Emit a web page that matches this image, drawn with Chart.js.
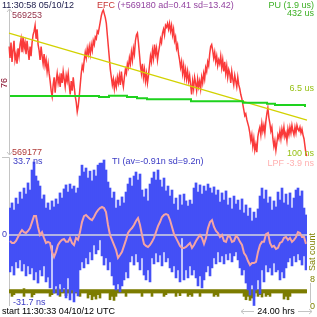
<!DOCTYPE html>
<html><head><meta charset="utf-8">
<script src="https://cdn.jsdelivr.net/npm/chart.js@4/dist/chart.umd.min.js"></script>
<style>html,body{margin:0;padding:0;background:#fff;overflow:hidden}#wrap{width:317px;height:317px;position:relative}canvas{display:block}</style>
</head><body><div id="wrap"><canvas id="c" width="317" height="317"></canvas></div>
<script>
// ---- data ----
// EFC, offset from 569180 (one sample per pixel column)
const efcBase = 569180;
const efcTopLabel = 569253, efcBottomLabel = 569177;
const efc = [54,48,56,46,52,57,47,50,45,53,
49,55,58,51,59,53,56,50,57,52,
47,54,49,56,60,62,65,58,63,55,
52,47,54,49,45,50,44,47,41,45,
40,36,31,28,34,38,30,36,40,35,
38,33,40,35,41,37,33,39,36,40,
34,29,36,31,38,33,28,25,20,23,
28,34,40,44,42,47,51,48,53,50,
54,50,55,52,57,55,59,58,62,61,
64,67,70,72,73,71,69,66,60,54,
48,42,38,34,37,32,36,33,38,35,
39,34,41,36,33,38,42,40,45,43,
48,45,51,47,53,50,57,60,61,56,
50,44,40,45,38,42,36,40,35,39,
44,49,46,52,48,55,50,53,47,51,
54,58,56,61,63,60,65,64,66,63,
66,62,65,60,63,57,59,53,55,50,
47,43,46,40,44,38,42,37,41,36,
39,34,29,36,32,38,35,31,37,33,
36,32,38,35,40,37,43,41,46,44,
50,54,55,52,48,51,46,49,44,47,
45,49,43,47,41,46,40,44,38,42,
40,35,41,37,34,39,36,33,38,34,
32,29,27,24,21,18,19,16,14,12,
9,5,8,2,6,0,3,-1,7,10,
12,8,14,10,13,9,15,19,22,17,
14,10,12,6,2,5,0,4,8,6,
10,6,11,8,12,7,9,5,11,8,
12,9,13,10,8,12,9,13,11,10,
12,9,11,8,6,2,-2,-3];
// linear fit of EFC: start and end values
const efcTrendStart = 61.0, efcTrendEnd = 15.7;
// PU (us), log scale 100 ns .. 432 us
const puMin = 0.1, puMax = 432;
const pu = [3.12,3.12,3.12,3.12,3.12,3.12,3.12,3.12,3.12,3.12,
3.12,3.12,3.12,3.12,3.12,3.12,3.12,3.12,3.12,3.12,
3.12,3.12,3.12,3.12,3.12,3.12,3.12,3.12,3.12,3.12,
3.12,3.12,3.12,3.12,3.12,3.12,3.12,3.12,3.12,3.12,
3.12,3.12,3.12,3.12,3.12,2.95,2.95,2.95,2.95,2.95,
3.17,3.17,3.17,3.17,3.17,3.17,3.17,3.17,3.17,2.95,
2.95,2.95,2.95,2.95,2.73,2.73,2.73,2.73,2.73,2.58,
2.58,2.58,2.58,2.58,2.58,2.58,2.58,2.58,2.58,2.58,
2.58,2.58,2.58,2.58,2.58,2.58,2.58,2.58,2.58,2.58,
2.58,2.30,2.30,2.30,2.30,2.30,2.30,2.30,2.30,2.30,
2.30,2.30,2.30,2.30,2.30,2.30,2.30,2.30,2.30,2.30,
2.30,2.30,2.30,2.30,2.30,2.30,2.30,2.12,2.12,2.12,
2.12,2.12,2.12,2.12,2.12,2.12,2.12,2.12,2.12,2.01,
2.01,2.01,2.01,1.86,1.86,1.86,1.86,1.86,1.86,1.86,
1.86,1.86,1.86,1.86,1.86,1.86,1.86,1.86,1.76];
// TI (ns): per-column range
const tiMax = 33.7, tiMin = -31.7;
const tiHigh = [12.1,14.4,11.2,16.6,13.9,19.3,16.2,21.1,18.4,23.4,
20.2,29.2,32.8,26.5,24.3,22.0,16.2,18.0,12.1,14.4,
11.2,15.3,12.6,16.2,13.9,18.9,16.6,20.7,22.5,19.3,
22.9,20.7,22.0,18.9,21.1,26.5,31.4,28.3,30.1,25.6,
28.7,24.3,29.2,26.5,31.4,32.3,32.3,33.7,29.2,23.8,
21.1,16.6,19.3,12.1,15.7,13.0,17.1,14.4,19.3,22.9,
25.6,22.0,26.5,28.3,24.7,27.4,20.2,17.1,20.7,15.3,
22.9,25.6,28.3,24.7,29.2,24.7,21.6,25.6,19.8,22.0,
17.5,20.2,13.9,16.6,11.2,18.0,13.5,18.4,15.3,13.0,
15.7,13.9,21.1,23.4,19.3,22.5,18.4,22.0,19.8,22.9,
21.1,18.9,21.6,18.0,20.2,14.8,18.9,15.7,19.8,13.5,
16.6,11.7,17.5,13.9,15.7,11.2,16.2,9.9,13.5,8.5,
12.1,6.3,10.3,7.6,11.7,17.5,21.1,16.2,20.2,14.4,
17.1,11.2,15.3,12.6,19.3,15.7,21.1,14.4,18.4,13.5,
18.9,12.1,16.6,20.2,21.1,17.5,19.8,12.1,9.0];
const tiLow = [-16.6,-13.9,-18.0,-12.1,-14.8,-11.2,-16.2,-13.0,-18.4,-13.9,
-17.5,-14.8,-20.2,-16.6,-21.6,-15.7,-18.4,-13.9,-21.1,-18.9,
-23.8,-4.5,-26.1,-22.9,-27.0,-22.0,-25.6,-23.8,-28.3,-19.3,
-29.2,-24.7,-30.1,-25.6,-27.4,-15.7,-12.1,-14.8,-10.3,-13.0,
-7.6,-11.2,-4.5,-8.5,-6.7,-2.2,-9.4,-13.5,-10.3,-15.7,
-12.1,-18.4,-22.5,-24.7,-22.0,-25.6,-22.9,-20.2,-16.6,-19.3,
-12.1,-9.4,-13.5,-8.5,-12.1,-15.7,-10.3,-18.0,-20.2,-15.7,
-21.1,-10.3,-13.0,-8.1,-12.1,-9.0,-13.9,-7.6,-12.1,-10.3,
-14.8,-16.6,-13.9,-19.3,-15.7,-21.1,-1.3,-20.2,-15.7,-19.3,
-13.9,-18.0,-15.7,-19.3,-22.9,-18.4,-23.8,-20.2,-16.6,-13.9,
-18.4,-14.8,-10.3,-13.0,-7.6,-12.1,-9.4,-13.0,-8.5,-11.2,
-8.1,-12.1,-9.4,-7.6,-11.2,-14.8,-18.0,-15.7,-21.6,-24.7,
-27.0,-22.5,-31.7,-24.7,-20.2,-26.5,-15.7,-21.1,-13.5,-16.6,
-14.8,-18.0,-12.6,-16.6,-15.7,-20.2,-16.6,-19.3,-14.8,-12.1,
-10.3,-13.9,-9.4,-12.1,-8.5,-11.2,-13.5,-9.4,-15.7];
// LPF of TI (ns)
const lpf = [-2.7,-3.6,-3.6,-2.7,-0.9,0.9,2.2,1.3,0.9,1.8,
3.1,5.8,8.5,8.5,3.6,0,1.3,-1.3,-3.6,-3.1,
-3.6,-7.6,-9.9,-7.6,-4.5,-3.1,-2.2,-1.8,-3.1,-3.1,
-1.3,-3.6,-4.5,-1.3,-2.2,1.3,5.8,8.5,9.0,8.1,
7.2,6.7,8.1,9.9,11.2,12.1,12.6,12.1,10.3,4.5,
0,-2.2,-4.5,-6.7,-10.3,-9.0,-7.6,-4.9,-2.2,0.9,
2.2,3.1,4.5,6.3,7.6,4.5,0,-4.0,-4.9,-5.4,
-4.5,-3.1,-1.3,1.3,4.0,5.8,8.1,9.0,9.4,9.0,
6.7,3.6,0.4,-1.3,-3.1,-4.9,-5.8,-5.8,-5.4,-4.5,
-3.6,-5.8,-4.5,-2.7,-1.3,0,-1.3,-4.0,-1.3,3.1,
5.8,6.7,3.6,1.8,0.9,-0.9,0,-2.7,-3.1,-0.4,
-0.9,-3.1,-2.7,-0.4,-1.3,-3.1,-4.5,-8.1,-9.4,-11.7,
-13.5,-12.6,-12.6,-12.1,-7.6,-4.5,-3.1,-3.1,0.4,0.9,
-3.6,-5.4,-4.9,-6.3,-5.8,-3.6,-3.1,-1.3,-0.9,-2.2,
-1.3,-3.1,-2.2,-0.9,1.3,0.9,-0.9,-0.9,-4.0];
const tiZero = 0;
// Sat count, per-column range
const satTop = 8, satBottom = 0;
const satHigh = [5,5,5,5,5,5,5,5.3,5,5,
5,5,5,5,5,5,5,5,5,5,
5,5,5,5,5.3,5,5,5,5,5,
5,5,5,5,5,5,5,5,5,5,
5,5,5,5,5,5,5,5,5,5,
5,5,5,5,5,5,5,5,5,5,
5,5,5,5,5,5,5,5,5,5,
5,5,5,5,5,5,5,5,5,5,
5,5,5,5,5,5,5,5,5,5,
5,5,5,5,5,5,5,5,5,5,
5,5,5,5,5,5,5,5,5,5,
5,5,5,5,5,5,5,5,5,5,
5,5,5,5,5,5,5,5,5,5,
5,5,5,5,5,5,5,5,5,5,
5,5,5,5,5,5,5,5,5];
const satLow = [4,3,3.5,4,4,4,4,3,4,4,
4,2.8,3.5,4,4,4,4,4,4,4,
3,3.5,4,4,4,3,4,4,3.2,4,
4,4,4,4,4,3,4,4,4,2.5,
3.5,2,3,2.2,3.5,2.5,4,4,4,4,
2,3,1.8,3,4,4,4,4,3,4,
4,4,4,4,4,4,3,4,4,4,
4,3,4,4,4,4,4,3,3.5,4,
4,4,4,3,4,3.2,4,4,4,3,
3.5,3,4,4,4,3,4,4,4,4,
4,4,3,3.5,3,4,4,4,4,4,
4,4,4,4,4,4,4,3,2,3,
1.8,2.5,3,4,3,3.5,2.8,4,3,3.5,
3,4,4,4,4,4,4,2.2,3,2,
3,4,4,4,4,4,4,4,4];
const spanHours = 24.00;

// ---- layout helpers ----
const W = 317, H = 317;
const PAD = {left: 9, right: 10, top: 8, bottom: 10};
const AT = PAD.top, AB = H - PAD.bottom;
function band(vLo, vHi, pLo, pHi) {
  const s = (vHi - vLo) / (pLo - pHi);
  return {min: vLo - (AB - pLo) * s, max: vHi + (pHi - AT) * s};
}
function logBand(vLo, vHi, pLo, pHi) {
  const b = band(Math.log10(vLo), Math.log10(vHi), pLo, pHi);
  return {min: Math.pow(10, b.min), max: Math.pow(10, b.max)};
}
const efcAx = band(efcBottomLabel - efcBase, efcTopLabel - efcBase, 156, 10);
const puAx = logBand(puMin, puMax, 156, 10);
const tiAx = band(tiMin, tiMax, 305.5, 160);
const satAx = band(satBottom, satTop, 306.5, 279.5);

const N = tiHigh.length;
const labels = tiHigh.map((_, i) => i);
const NF = efc.length;
const fineLabels = efc.map((_, i) => i);
const trend = fineLabels.map(i => i === 0 ? efcTrendStart : (i === NF - 1 ? efcTrendEnd : null));
const zeroLine = fineLabels.map(i => (i === 0 || i === NF - 1) ? tiZero : null);

const FONT = '9px "Liberation Sans", Arial, sans-serif';
const deco = {
  id: 'deco',
  beforeDatasetsDraw(chart) {
    const c = chart.ctx; c.save();
    c.strokeStyle = '#c4c4c4'; c.lineWidth = 1;
    c.beginPath();
    c.moveTo(9.5, 9); c.lineTo(9.5, 155);
    c.moveTo(7, 12); c.lineTo(9.5, 9); c.lineTo(12, 12);
    c.moveTo(7, 152); c.lineTo(9.5, 155); c.lineTo(12, 152);
    c.moveTo(2, 157.5); c.lineTo(9.5, 157.5); c.lineTo(9.5, 306);
    c.moveTo(310.5, 283); c.lineTo(310.5, 303);
    c.moveTo(241, 311.5); c.lineTo(254, 311.5);
    c.moveTo(244, 309); c.lineTo(241, 311.5); c.lineTo(244, 314);
    c.moveTo(298, 311.5); c.lineTo(312, 311.5);
    c.moveTo(309, 309); c.lineTo(312, 311.5); c.lineTo(309, 314);
    c.stroke();
    c.restore();
  },
  afterDatasetsDraw(chart) {
    const c = chart.ctx; c.save();
    c.font = FONT; c.textBaseline = 'middle';
    const t = (s, x, y, col, al) => { c.fillStyle = col; c.textAlign = al || 'left'; c.fillText(s, x, y); };
    const sEfc = chart.scales.yEfc, sTi = chart.scales.yTi, sSat = chart.scales.ySat;
    t('11:30:58 05/10/12', 2, 5.5, '#1a1a4a');
    t('EFC', 97, 5.5, '#c83434');
    const w = c.measureText('EFC ').width;
    t('(+' + efcBase + ' ad=0.41 sd=13.42)', 97 + w, 5.5, '#9444a0');
    t('PU (1.9 us)', 314, 5.5, '#3cb024', 'right');
    t('432 us', 314, 13.5, '#3cb024', 'right');
    t(String(efcTopLabel), 12, sEfc.getPixelForValue(efcTopLabel - efcBase) + 5.5, '#943048');
    t(String(efcBottomLabel), 12, sEfc.getPixelForValue(efcBottomLabel - efcBase) - 3.5, '#b03a38');
    t('6.5 us', 314, 89, '#96c014', 'right');
    t('100 ns', 314, 154, '#96c014', 'right');
    t(tiMax.toFixed(1) + ' ns', 13, sTi.getPixelForValue(tiMax) + 1.5, '#3a3ac4');
    t('TI (av=-0.91n sd=9.2n)', 112, 161.5, '#3a3ac4');
    t('LPF -3.9 ns', 314, 164, '#ffb0b0', 'right');
    t('0', 2, sTi.getPixelForValue(tiZero), '#3a3ac4');
    t(tiMin.toFixed(1) + ' ns', 13, 302.5, '#3a3ac4');
    t('start 11:30:33 04/10/12 UTC', 2, 312, '#000000');
    t(spanHours.toFixed(2) + ' hrs', 276, 312, '#000000', 'center');
    t(String(satTop), 312.5, sSat.getPixelForValue(satTop), '#808000', 'center');
    t(String(satBottom), 312.5, sSat.getPixelForValue(satBottom), '#808000', 'center');
    c.save(); c.translate(4.5, 83); c.rotate(-Math.PI / 2);
    t(String(efcTopLabel - efcBottomLabel), 0, 0, '#800020', 'center'); c.restore();
    c.save(); c.translate(312.5, 252); c.rotate(-Math.PI / 2);
    t('Sat count', 0, 0, '#808000', 'center'); c.restore();
    c.restore();
  }
};

new Chart(document.getElementById('c'), {
  type: 'bar',
  data: {
    labels,
    datasets: [
      {type: 'line', label: 'LPF', data: lpf, yAxisID: 'yTi', borderColor: '#f4a4a4', borderWidth: 2, pointRadius: 0, order: 1},
      {type: 'line', label: 'zero', data: zeroLine, xAxisID: 'xf', yAxisID: 'yTi', spanGaps: true, borderColor: '#d4d4dc', borderWidth: 1.5, pointRadius: 0, order: 2},
      {type: 'line', label: 'PU', data: pu, yAxisID: 'yPu', stepped: 'middle', borderColor: '#1ed21e', borderWidth: 2, pointRadius: 0, order: 3},
      {type: 'line', label: 'trend', data: trend, xAxisID: 'xf', yAxisID: 'yEfc', spanGaps: true, borderColor: '#d2d200', borderWidth: 1.2, pointRadius: 0, order: 4},
      {type: 'line', label: 'EFC', data: efc, xAxisID: 'xf', yAxisID: 'yEfc', borderColor: '#fa3a3a', borderWidth: 1.5, pointRadius: 0, order: 5},
      {type: 'bar', label: 'TI', data: tiLow.map((lo, i) => [lo, tiHigh[i]]), yAxisID: 'yTi', backgroundColor: '#4450f6', borderWidth: 0, grouped: false, barPercentage: 1, categoryPercentage: 1, order: 6},
      {type: 'bar', label: 'Sat', data: satLow.map((lo, i) => [lo, satHigh[i]]), yAxisID: 'ySat', backgroundColor: '#7c7c00', borderWidth: 0, grouped: false, barPercentage: 1, categoryPercentage: 1, order: 7}
    ]
  },
  options: {
    responsive: false, animation: false, devicePixelRatio: 1,
    layout: {padding: PAD},
    plugins: {legend: {display: false}, tooltip: {enabled: false}, title: {display: false}},
    scales: {
      x: {type: 'category', display: false, offset: true},
      xf: {type: 'category', labels: fineLabels, display: false, offset: false},
      yEfc: {type: 'linear', display: false, min: efcAx.min, max: efcAx.max},
      yPu: {type: 'logarithmic', display: false, min: puAx.min, max: puAx.max},
      yTi: {type: 'linear', display: false, min: tiAx.min, max: tiAx.max},
      ySat: {type: 'linear', display: false, min: satAx.min, max: satAx.max}
    }
  },
  plugins: [deco]
});
</script></body></html>
